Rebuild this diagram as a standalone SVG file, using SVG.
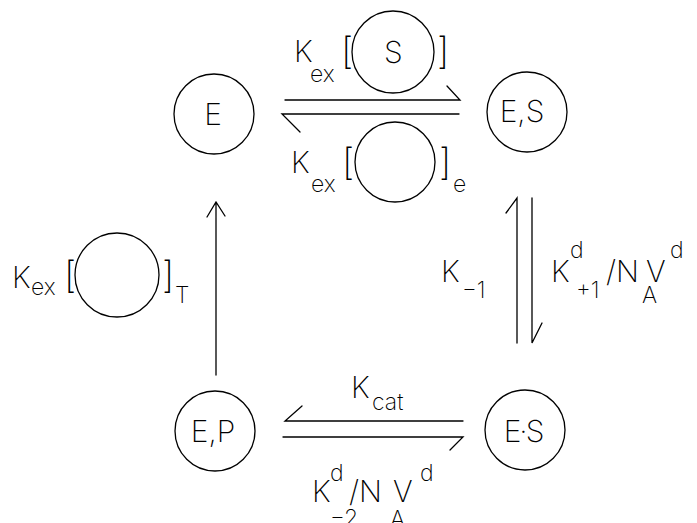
<svg xmlns="http://www.w3.org/2000/svg" width="697" height="523" viewBox="0 0 697 523">
<style>
.n{fill:none;stroke:#000;stroke-width:1.3}
.t{font-family:Inter,"Liberation Sans",sans-serif;font-weight:200;fill:#000;font-size:30px}
.s{font-size:23px}
.b{font-size:37px}
.c{text-anchor:middle}
.l{fill:none;stroke:#000;stroke-width:1.3;stroke-linecap:round}
</style>
<rect width="697" height="523" fill="#fff"/>
<g id="E"><circle class="n" cx="214" cy="114" r="40"/><text class="t c" x="213" y="125">E</text></g>
<g id="ES_complex"><circle class="n" cx="527" cy="112" r="40"/><text class="t c" x="522" y="122">E,S</text></g>
<g id="EP"><circle class="n" cx="215" cy="431" r="40"/><text class="t c" x="213" y="442">E,P</text></g>
<g id="E_S"><circle class="n" cx="525" cy="430" r="40"/><text class="t c" x="523" y="442" letter-spacing="-2">E·S</text></g>
<g id="connectors">
<path class="l" d="M285 100H460L447 86"/>
<path class="l" d="M459 114H282L300 132"/>
<path class="l" d="M517 343V198L506 213"/>
<path class="l" d="M532 198V343L542 323"/>
<path class="l" d="M463 421H285L302 406"/>
<path class="l" d="M283 437H463L450 450"/>
<path class="l" d="M216 375V202M207 217L216 202L225 216"/>
</g>
<g id="label_top">
<text class="t"><tspan x="294" y="62">K</tspan><tspan class="s" x="310" y="82">ex</tspan><tspan class="b" x="341" y="64">[</tspan><tspan x="384" y="63">S</tspan><tspan class="b" x="437" y="64">]</tspan></text>
<circle class="n" cx="393" cy="52" r="41"/>
</g>
<g id="label_bottom_top">
<text class="t"><tspan x="291" y="173">K</tspan><tspan class="s" x="311" y="192">ex</tspan><tspan class="b" x="342" y="175">[</tspan><tspan class="b" x="439" y="175">]</tspan><tspan class="s" x="453" y="192">e</tspan></text>
<circle class="n" cx="395" cy="162" r="40"/>
</g>
<g id="label_left">
<text class="t"><tspan x="12" y="288">K</tspan><tspan class="s" x="31" y="295">ex</tspan><tspan class="b" x="64" y="288">[</tspan><tspan class="b" x="162" y="288">]</tspan><tspan class="s" x="175" y="303">T</tspan></text>
<circle class="n" cx="117" cy="275" r="42"/>
</g>
<g id="label_right">
<text class="t"><tspan x="441" y="282">K</tspan><tspan class="s" x="462" y="298">−1</tspan></text>
<text class="t"><tspan x="551" y="282">K</tspan><tspan class="s" x="570" y="258">d</tspan><tspan class="s" x="576" y="298">+1</tspan><tspan x="606" y="282">/N</tspan><tspan class="s" x="642" y="303">A</tspan><tspan x="646" y="282">V</tspan><tspan class="s" x="670" y="258">d</tspan></text>
</g>
<g id="label_bottom">
<text class="t"><tspan x="351" y="398">K</tspan><tspan class="s" x="372" y="410">cat</tspan></text>
<text class="t"><tspan x="312" y="502">K</tspan><tspan class="s" x="330" y="481">d</tspan><tspan class="s" x="330" y="526">−2</tspan><tspan x="349" y="502">/N</tspan><tspan class="s" x="390" y="527">A</tspan><tspan x="393" y="502">V</tspan><tspan class="s" x="420" y="481">d</tspan></text>
</g>
</svg>
